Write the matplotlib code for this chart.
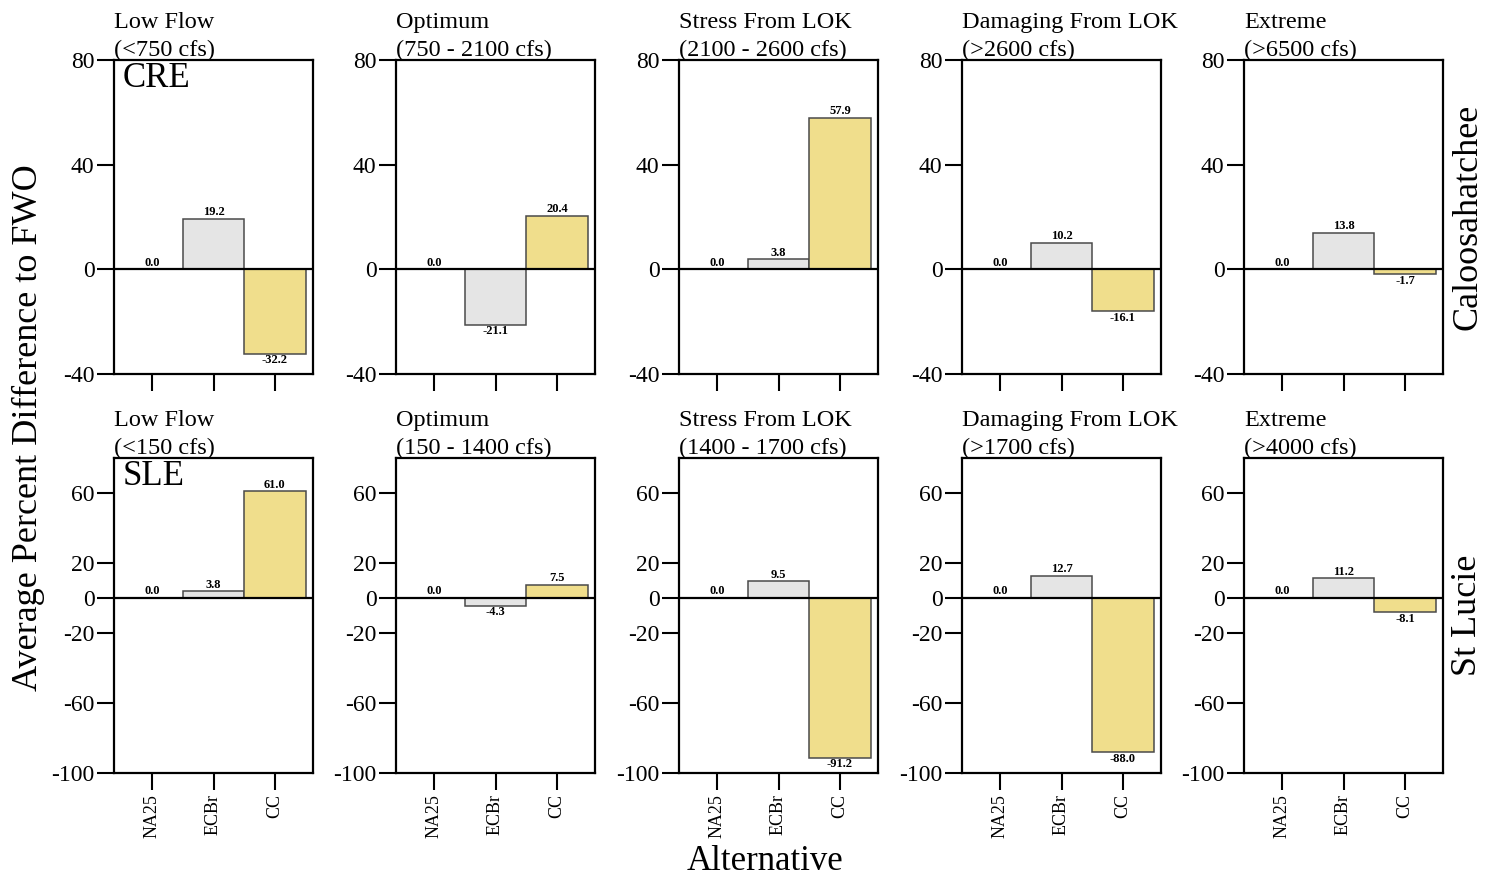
import matplotlib
matplotlib.use("Agg")
import matplotlib.pyplot as plt

plt.rcParams['font.family'] = ['Liberation Serif', 'DejaVu Serif']
plt.rcParams['axes.unicode_minus'] = False

alternatives = ["NA25", "ECBr", "CC"]
bar_colors = ["#E5E5E5", "#E5E5E5", "#F0DE8C"]

cre_titles = ["Low Flow\n(<750 cfs)", "Optimum\n(750 - 2100 cfs)",
              "Stress From LOK\n(2100 - 2600 cfs)", "Damaging From LOK\n(>2600 cfs)",
              "Extreme\n(>6500 cfs)"]
sle_titles = ["Low Flow\n(<150 cfs)", "Optimum\n(150 - 1400 cfs)",
              "Stress From LOK\n(1400 - 1700 cfs)", "Damaging From LOK\n(>1700 cfs)",
              "Extreme\n(>4000 cfs)"]

cre_low_flow = [0.0, 19.2, -32.2]
cre_optimum = [0.0, -21.1, 20.4]
cre_stress = [0.0, 3.8, 57.9]
cre_damaging = [0.0, 10.2, -16.1]
cre_extreme = [0.0, 13.8, -1.7]

sle_low_flow = [0.0, 3.8, 61.0]
sle_optimum = [0.0, -4.3, 7.5]
sle_stress = [0.0, 9.5, -91.2]
sle_damaging = [0.0, 12.7, -88.0]
sle_extreme = [0.0, 11.2, -8.1]

cre_values = [cre_low_flow, cre_optimum, cre_stress, cre_damaging, cre_extreme]
sle_values = [sle_low_flow, sle_optimum, sle_stress, sle_damaging, sle_extreme]

cre_yticks = [-40, 0, 40, 80]
sle_yticks = [-100, -60, -20, 0, 20, 60]

W, H = 1491, 877
fig = plt.figure(figsize=(W / 100, H / 100), dpi=100)

lefts = [114, 396, 679, 962, 1244]
aw = 199
rows = [(60, 374, cre_values, cre_titles, (-40, 80), cre_yticks, "CRE", False),
        (458, 773, sle_values, sle_titles, (-100, 80), sle_yticks, "SLE", True)]

xpos = [1, 2, 3]
for (top, bot, vals_all, titles, ylim, yticks, tag, show_x) in rows:
    for i, left in enumerate(lefts):
        ax = fig.add_axes([left / W, 1 - bot / H, aw / W, (bot - top) / H])
        vals = vals_all[i]
        ax.bar(xpos, vals, width=1.0, color=bar_colors, edgecolor="#4a4a4a",
               linewidth=1.1, zorder=2)
        ax.axhline(0, color="black", lw=1.6, zorder=3)
        for x, v in zip(xpos, vals):
            if v >= 0:
                ax.text(x, v + 0.3, f"{v:.1f}", ha="center", va="bottom",
                        fontsize=9, fontweight="bold", zorder=4)
            else:
                ax.text(x, v - 0.3, f"{v:.1f}", ha="center", va="top",
                        fontsize=9, fontweight="bold", zorder=4)
        ax.set_xlim(0.38, 3.62)
        ax.set_ylim(*ylim)
        ax.set_yticks(yticks)
        ax.set_yticklabels([str(t) for t in yticks])
        ax.set_xticks(xpos)
        if show_x:
            ax.set_xticklabels(alternatives, rotation=90, fontsize=13)
        else:
            ax.set_xticklabels([])
        ax.tick_params(axis="both", direction="out", length=12, width=1.5,
                       labelsize=17, pad=2, color="black")
        ax.tick_params(axis="x", labelsize=13, pad=3)
        for s in ax.spines.values():
            s.set_linewidth(1.6)
            s.set_color("black")
        ax.text(0.0, 0.997, titles[i], transform=ax.transAxes, ha="left",
                va="bottom", fontsize=17.5, linespacing=1.4)
        if i == 0:
            ax.text(0.045, 0.995, tag, transform=ax.transAxes, ha="left",
                    va="top", fontsize=25)

fig.text(28 / W, 1 - 428 / H, "Average Percent Difference to FWO", rotation=90,
         ha="center", va="center", fontsize=26)
fig.text(765 / W, 1 - 862 / H, "Alternative", ha="center", va="center", fontsize=25)
fig.text(1468 / W, 1 - 217 / H, "Caloosahatchee", rotation=90, ha="center",
         va="center", fontsize=26)
fig.text(1468 / W, 1 - 615 / H, "St Lucie", rotation=90, ha="center",
         va="center", fontsize=26)

fig.savefig("out.png", dpi=100)
